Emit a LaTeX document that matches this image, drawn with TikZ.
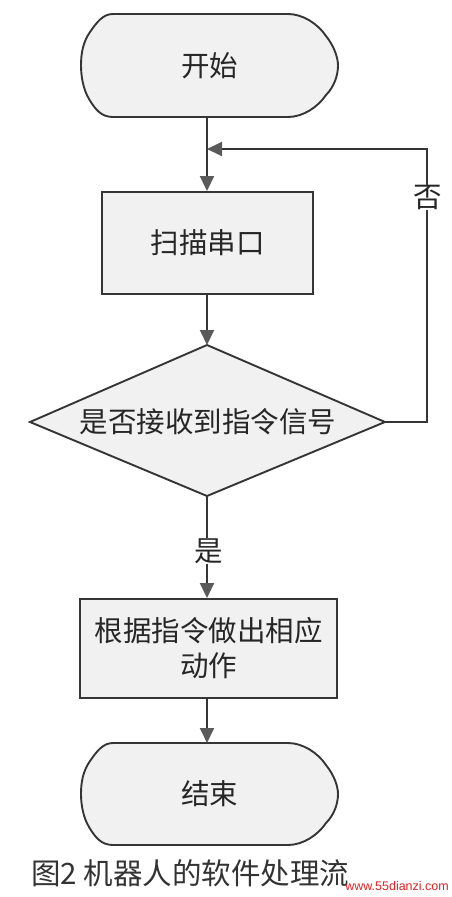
\documentclass[tikz,border=0pt]{standalone}
\usepackage{fontspec}
\newfontfamily\cjk{Noto Sans CJK SC}
\setmainfont{Liberation Sans}
\usetikzlibrary{arrows.meta}
\definecolor{ln}{HTML}{353535}
\definecolor{tip}{HTML}{5A5A5A}
\definecolor{bg}{HTML}{F1F1F1}
\definecolor{wm}{HTML}{D8262A}
\tikzset{
  lbl/.style={font=\cjk\fontsize{28.5}{35}\selectfont, text=black!85, inner sep=0pt},
  box/.style={draw=ln, line width=1.9pt, fill=bg},
  proc/.style={box, lbl, rectangle},
  conn/.style={draw=ln, line width=1.9pt, -{Triangle[width=14pt,length=15pt,fill=tip,color=tip]}},
  plain/.style={draw=ln, line width=1.9pt},
}
\newcommand{\termshape}[5]{% left, right, top, bottom, middle
  \path[box] ({#1+32},#3) -- ({#2-50},#3)
    .. controls ({#2-35},#3) and ({#2-20},{#3+10}) .. ({#2-12},{#3+22})
    .. controls ({#2-4},{#3+32}) and (#2,{#5-8}) .. (#2,#5)
    .. controls (#2,{#5+10}) and ({#2-4},{#4-30}) .. ({#2-12},{#4-22})
    .. controls ({#2-20},{#4-10}) and ({#2-35},#4) .. ({#2-50},#4)
    -- ({#1+32},#4)
    .. controls ({#1+20},#4) and ({#1+14},{#4-8}) .. ({#1+8},{#4-18})
    .. controls ({#1+2},{#4-28}) and (#1,{#5+10}) .. (#1,#5)
    .. controls (#1,{#5-12}) and ({#1+2},{#3+28}) .. ({#1+9},{#3+18})
    .. controls ({#1+16},{#3+8}) and ({#1+22},#3) .. ({#1+32},#3) -- cycle;}
\begin{document}
\begin{tikzpicture}[x=1pt,y=-1pt]
\useasboundingbox (0,0) rectangle (451,897);
% start terminal
\termshape{81}{338}{14}{117}{65.5}
\node[lbl, minimum width=257pt, minimum height=103pt] (start) at (209.5,65.5) {开始};
% scan box
\node[proc, minimum width=211pt, minimum height=102pt] (scan) at (207.5,243) {扫描串口};
% decision diamond
\coordinate (dt) at (207,345);
\coordinate (dr) at (385,422);
\coordinate (db) at (207,496);
\coordinate (dl) at (30,422);
\path[box] (dt) -- (dr) -- (db) -- (dl) -- cycle;
\node[lbl] (dec) at (208,422) {是否接收到指令信号};
% action box
\node[proc, align=center, minimum width=257pt, minimum height=99pt] (act) at (208.5,648.5) {根据指令做出相应\\动作};
% end terminal
\termshape{81}{338}{743}{845}{794}
\node[lbl, minimum width=257pt, minimum height=102pt] (end) at (209.5,794) {结束};
% labels
\node[lbl] (no) at (428,197) {否};
\node[lbl] (yes) at (209,551) {是};
% connectors
\coordinate (join) at (207,149);
\coordinate (rc) at (427,422);
\coordinate (rt) at (427,149);
\coordinate (sb) at (207,117);
\coordinate (et) at (207,743);
\draw[conn] (sb) -- (sb |- scan.north);
\draw[plain] (dr) -- (rc) -- (rc |- no.south);
\draw[conn] (rt |- no.north) -- (rt) -- (join);
\draw[conn] (sb |- scan.south) -- (dt);
\draw[plain] (db) -- (db |- yes.north);
\draw[conn] (db |- yes.south) -- (db |- act.north);
\draw[conn] (et |- act.south) -- (et);
% caption
\node[font=\cjk\fontsize{29.5}{30}\selectfont, text=black!80, anchor=west, inner sep=0pt] (cap) at (31,873) {图2 机器人的软件处理流};
\node[font=\fontsize{12.5}{14}\selectfont, text=wm, anchor=east, inner sep=0pt] (wmk) at (449,886) {www.55dianzi.com};
\end{tikzpicture}
\end{document}
